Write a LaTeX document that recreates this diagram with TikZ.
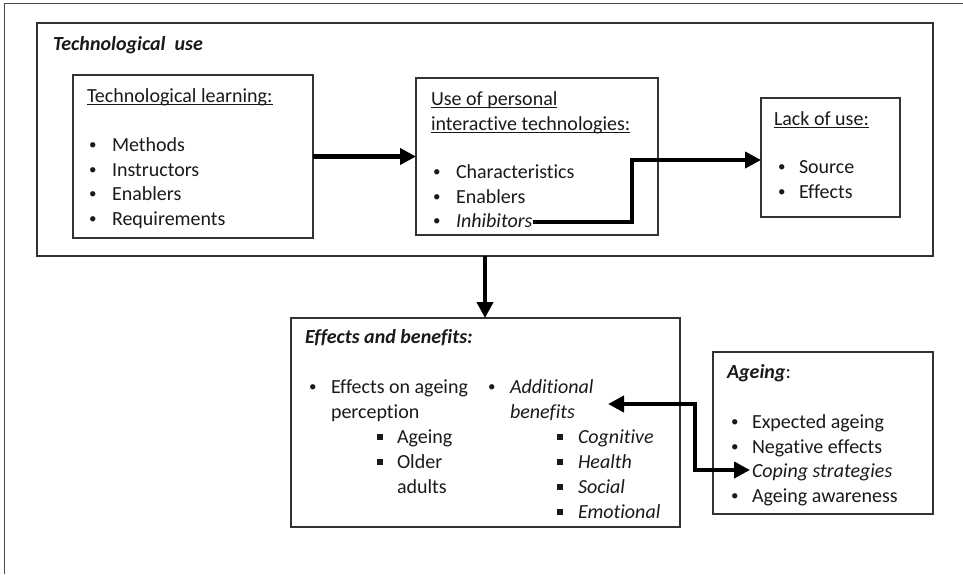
\documentclass[tikz,border=0pt]{standalone}
\usepackage{fontspec}
\setmainfont[Ligatures=NoCommon]{Carlito}
\usetikzlibrary{arrows.meta}
\definecolor{ink}{HTML}{1A1A1A}
\definecolor{rim}{HTML}{333333}
\definecolor{frame}{HTML}{4A4A4A}
\newcommand{\sqb}{\rule[3.5pt]{5.5pt}{5.5pt}}
\newcommand{\dotb}{\raisebox{1.8pt}{\fontsize{15}{15}\selectfont •}}
\newsavebox{\ulbox}
\newcommand{\uln}[1]{\sbox{\ulbox}{#1}\rlap{\rule[-3pt]{\wd\ulbox}{1.1pt}}\usebox{\ulbox}}

\begin{document}
\begin{tikzpicture}[x=1pt,y=-1pt,
  panel/.style={draw=rim, line width=1.5pt, inner sep=0pt, outer sep=0pt, anchor=north west},
  txt/.style={anchor=base west, inner sep=0pt, outer sep=0pt, text=ink,
              font=\fontsize{20}{24}\selectfont},
  conn/.style={draw=black, line width=4.5pt, line join=miter,
               -{Triangle[length=16pt,width=16pt]}},
  biconn/.style={draw=black, line width=4.5pt, line join=miter,
               {Triangle[length=16pt,width=16pt]}-{Triangle[length=16pt,width=16pt]}}]

\useasboundingbox (0,0) rectangle (963,574);
\fill[white] (0,0) rectangle (963,574);

% page frame
\draw[frame, line width=1pt] (963,3) -- (4,3) -- (4,574);

% panels
\node[panel, minimum width=896pt, minimum height=233pt] (outer) at (37,23) {};
\node[panel, minimum width=240pt, minimum height=163pt] (tl) at (73,75) {};
\node[panel, minimum width=242pt, minimum height=157pt] (up) at (416,78) {};
\node[panel, minimum width=139pt, minimum height=119pt] (lu) at (761,98) {};
\node[panel, minimum width=389pt, minimum height=209pt] (eb) at (291,318) {};
\node[panel, minimum width=220pt, minimum height=162pt] (ag) at (713,352) {};

% Technological use
\node[txt] (tuTitle) at (53,50) {\textbf{\textit{Technological\ \ use}}};

% Technological learning
\node[txt] (tlTitle) at (87,102) {\uln{Technological learning:}};
\foreach \y/\t [count=\i] in {151/Methods,176/Instructors,200/Enablers,225/Requirements}{
  \node[txt] (tlb\i) at (89,\y) {\dotb};
  \node[txt] (tlt\i) at (112,\y) {\t};
}

% Use of personal interactive technologies
\node[txt] (upTitleA) at (431,105) {\uln{Use of personal}};
\node[txt] (upTitleB) at (431,130) {\uln{interactive technologies:}};
\node[txt] (upb1) at (433,178) {\dotb};
\node[txt] (upt1) at (456,178) {Characteristics};
\node[txt] (upb2) at (433,203) {\dotb};
\node[txt] (upt2) at (456,203) {Enablers};
\node[txt] (upb3) at (433,227) {\dotb};
\node[txt] (inh) at (456,227) {\textit{Inhibitors}};

% Lack of use
\node[txt] (luTitle) at (774,125) {\uln{Lack of use:}};
\node[txt] (lub1) at (778,173) {\dotb};
\node[txt] (lut1) at (799,173) {Source};
\node[txt] (lub2) at (778,198) {\dotb};
\node[txt] (lut2) at (799,198) {Effects};

% Effects and benefits
\node[txt] (ebTitle) at (305,343) {\textbf{\textit{Effects and benefits:}}};
\node[txt] (ebb1) at (309,393) {\dotb};
\node[txt] (ebt1) at (331,393) {Effects on ageing};
\node[txt] (ebt1b) at (331,418) {perception};
\node[txt] (ebs1) at (377,443) {\sqb};
\node[txt] (ebs1t) at (397,443) {Ageing};
\node[txt] (ebs2) at (377,468) {\sqb};
\node[txt] (ebs2t) at (397,468) {Older};
\node[txt] (ebs2u) at (397,493) {adults};
\node[txt] (ebb2) at (488,393) {\dotb};
\node[txt] (addl) at (510,393) {\textit{Additional}};
\node[txt] (addlb) at (510,418) {\textit{benefits}};
\foreach \y/\t [count=\i] in {443/Cognitive,468/Health,493/Social,518/Emotional}{
  \node[txt] (abs\i) at (557,\y) {\sqb};
  \node[txt] (abt\i) at (578,\y) {\textit{\t}};
}

% Ageing
\node[txt] (agTitle) at (727,378) {\textbf{\textit{Ageing}}:};
\node[txt] (agb1) at (731,428) {\dotb};
\node[txt] (agt1) at (752,428) {Expected ageing};
\node[txt] (agb2) at (731,453) {\dotb};
\node[txt] (agt2) at (752,453) {Negative effects};
\node[txt] (cop) at (752,477) {\textit{Coping strategies}};
\node[txt] (agb4) at (731,502) {\dotb};
\node[txt] (agt4) at (752,502) {Ageing awareness};

% connectors
\draw[conn] (tl.east) -- (up.west);

\coordinate (inhs) at ([xshift=1pt,yshift=5pt]inh.base east);
\coordinate (ibend) at (632,160);
\draw[conn] (inhs) -- (inhs -| ibend) -- (ibend) -- (ibend -| lu.west);

\draw[conn] (outer.south) -- (outer.south |- eb.north);

\coordinate (abtip) at (608,404);
\coordinate (dbend) at (695,440);
\coordinate (copin) at ([xshift=-2pt,yshift=7pt]cop.base west);
\draw[biconn] (abtip) -| (dbend) |- (copin);
\end{tikzpicture}
\end{document}
